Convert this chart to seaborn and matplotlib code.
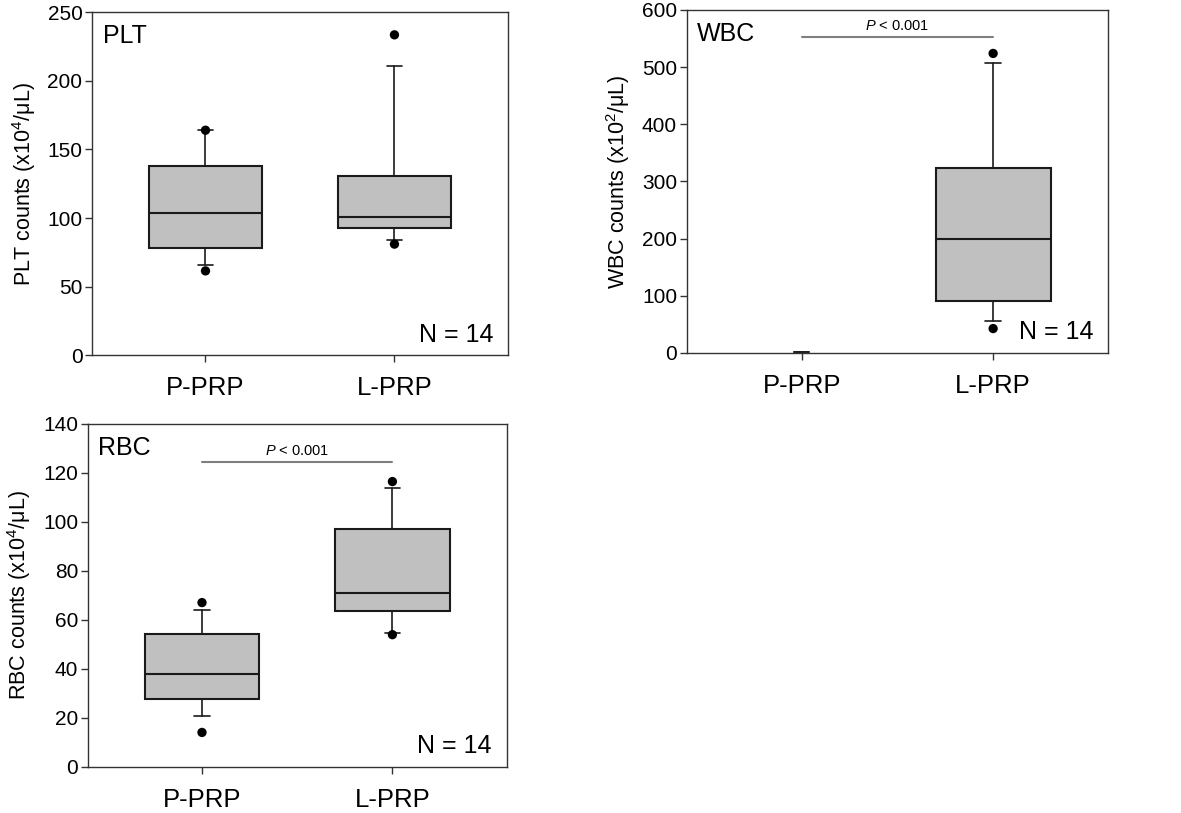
"""
Box plots of PLT, WBC and RBC counts in P-PRP vs L-PRP (SigmaPlot-style).
Boxes = 25th/50th/75th, whiskers = 10th/90th, dots = 5th/95th percentiles.
"""

import numpy as np
import pandas as pd
import matplotlib
matplotlib.use("Agg")
import matplotlib.pyplot as plt
import seaborn as sns

categories = ["P-PRP", "L-PRP"]

# PLT (x10^4/uL)
plt_q1 = [78, 93]
plt_med = [104, 101]
plt_q3 = [138, 131]
plt_whislo = [65.5, 84]
plt_whishi = [164, 211]
plt_p5 = [61.5, 81]
plt_p95 = [164, 233.5]

# WBC (x10^2/uL) -- P-PRP is essentially zero, only the caps show
wbc_q1 = [1, 90.5]
wbc_med = [1, 198.5]
wbc_q3 = [1, 323]
wbc_whislo = [1, 56]
wbc_whishi = [1, 507]
wbc_p5 = [np.nan, 42.5]
wbc_p95 = [np.nan, 524]

# RBC (x10^4/uL)
rbc_q1 = [27.7, 63.7]
rbc_med = [38.1, 71.1]
rbc_q3 = [54.2, 97.2]
rbc_whislo = [20.9, 54.6]
rbc_whishi = [64.2, 114.0]
rbc_p5 = [14.1, 54.0]
rbc_p95 = [67.1, 116.5]

sns.set_theme(style="ticks")
plt.rcParams["font.family"] = ["Liberation Sans", "DejaVu Sans"]
plt.rcParams["mathtext.fontset"] = "custom"
plt.rcParams["mathtext.rm"] = "Liberation Sans"
plt.rcParams["mathtext.it"] = "Liberation Sans:italic"
for key in ["text.color", "axes.labelcolor", "xtick.labelcolor", "ytick.labelcolor"]:
    plt.rcParams[key] = "black"

BOX_GRAY = "#c0c0c0"
EDGE = "#1a1a1a"


def draw_panel(ax, q1, med, q3, wlo, whi, p5, p95, ymax, ystep, ylabel, tag, pval_y=None):
    for i in range(len(categories)):
        stats = [dict(q1=q1[i], med=med[i], q3=q3[i], whislo=wlo[i], whishi=whi[i], fliers=[])]
        has_box = q3[i] > q1[i]
        parts = ax.bxp(stats, positions=[i], widths=0.6, capwidths=0.08,
                       showbox=has_box, showfliers=False, patch_artist=True,
                       boxprops=dict(facecolor=BOX_GRAY, edgecolor=EDGE, linewidth=1.5),
                       medianprops=dict(color=EDGE, linewidth=1.5),
                       whiskerprops=dict(color=EDGE, linewidth=1.2),
                       capprops=dict(color=EDGE, linewidth=1.2))
        if not has_box:
            for m in parts["medians"]:
                m.set_visible(False)

    pts = pd.DataFrame({"x": list(range(len(categories))) * 2, "y": list(p5) + list(p95)}).dropna()
    sns.scatterplot(data=pts, x="x", y="y", ax=ax, color="black", s=45,
                    edgecolor="none", zorder=5, legend=False)

    ax.set_xlim(-0.6, 1.6)
    ax.set_ylim(0, ymax)
    ax.set_yticks(np.arange(0, ymax + 1, ystep))
    ax.set_xticks(range(len(categories)))
    ax.set_xticklabels(categories, fontsize=18.5)
    ax.tick_params(axis="y", labelsize=15, length=5, width=1, pad=2, color="#333333")
    ax.tick_params(axis="x", length=5, width=1, pad=10, color="#333333")
    ax.set_xlabel("")
    ax.set_ylabel(ylabel, fontsize=15.5, labelpad=7)
    for sp in ax.spines.values():
        sp.set_visible(True)
        sp.set_color("#333333")
        sp.set_linewidth(1.0)

    ax.text(0.025, 0.965, tag, transform=ax.transAxes, fontsize=18, ha="left", va="top")
    ax.text(0.965, 0.025, "N = 14", transform=ax.transAxes, fontsize=18, ha="right", va="bottom")

    if pval_y is not None:
        ax.plot([0, 1], [pval_y, pval_y], color="#7f7f7f", linewidth=1.5)
        ax.text(0.5, pval_y + ymax * 0.012, r"$\it{P}$ < 0.001", fontsize=10.5,
                ha="center", va="bottom")


fig = plt.figure(figsize=(11.81, 8.13), dpi=100)
ax1 = fig.add_axes([0.078, 0.563, 0.352, 0.422])
ax2 = fig.add_axes([0.5815, 0.566, 0.3567, 0.4217])
ax3 = fig.add_axes([0.0743, 0.0566, 0.3547, 0.4219])

draw_panel(ax1, plt_q1, plt_med, plt_q3, plt_whislo, plt_whishi, plt_p5, plt_p95,
           250, 50, r"PLT counts (x10$^{\mathrm{4}}$/μL)", "PLT")
draw_panel(ax2, wbc_q1, wbc_med, wbc_q3, wbc_whislo, wbc_whishi, wbc_p5, wbc_p95,
           600, 100, r"WBC counts (x10$^{\mathrm{2}}$/μL)", "WBC", pval_y=552)
draw_panel(ax3, rbc_q1, rbc_med, rbc_q3, rbc_whislo, rbc_whishi, rbc_p5, rbc_p95,
           140, 20, r"RBC counts (x10$^{\mathrm{4}}$/μL)", "RBC", pval_y=124.4)

fig.savefig("out.png", dpi=100)
plt.close(fig)
